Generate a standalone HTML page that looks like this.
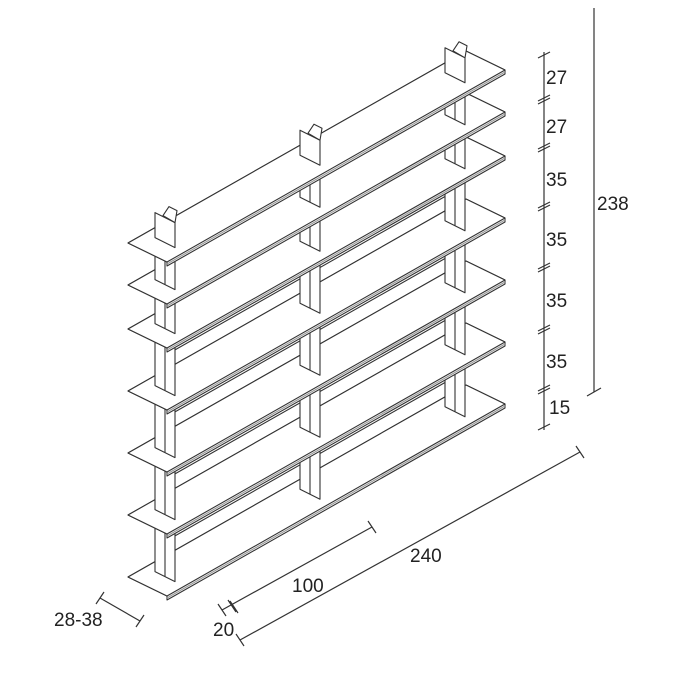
<!DOCTYPE html>
<html><head><meta charset="utf-8"><style>
html,body{margin:0;padding:0;background:#fff;width:686px;height:686px;overflow:hidden}
svg text{font-family:"Liberation Sans",sans-serif;font-size:19px;fill:#222}
</style></head><body>
<svg id="s" width="686" height="686" viewBox="0 0 686 686" xmlns="http://www.w3.org/2000/svg">
<g id="g" stroke="#333" stroke-width="1.1" fill="#fff" stroke-linejoin="round"></g>
<g stroke="#333" stroke-width="1.2" fill="none">
<line x1="544" y1="52" x2="544" y2="430"/>
<line x1="594" y1="8" x2="594" y2="392"/>
<line x1="587" y1="396" x2="601" y2="388"/>
<path d="M538 58l12-6 M538 430l12-6 M538 101l12-6 M538 104l12-6 M538 149l12-6 M538 152l12-6 M538 208l12-6 M538 211l12-6 M538 269l12-6 M538 272l12-6 M538 331l12-6 M538 334l12-6 M538 391l12-6 M538 394l12-6"/>
<line x1="240" y1="640" x2="580" y2="452"/>
<path d="M236 634l8 12 M576 446l8 12"/>
<line x1="222" y1="610" x2="372" y2="527"/>
<path d="M218 604l8 12 M368 521l8 12 M228 600l8 12 M230 601l8 12"/>
<line x1="100" y1="598" x2="140" y2="621"/>
<path d="M96 604l8-12 M136 627l8-12"/>
</g>
<text x="546" y="84">27</text>
<text x="546" y="133">27</text>
<text x="546" y="186">35</text>
<text x="546" y="246">35</text>
<text x="546" y="307">35</text>
<text x="546" y="368">35</text>
<text x="549" y="414">15</text>
<text x="597" y="210">238</text>
<text x="410" y="562">240</text>
<text x="292" y="592">100</text>
<text x="213" y="636">20</text>
<text x="54" y="626">28-38</text>
</svg>
<script>
var g=document.getElementById('g');var h='';
var ybs=[577,515,453,391,329,285,243];
function P(a){return '<polygon points="'+a.map(function(p){return p[0].toFixed(1)+','+p[1].toFixed(1)}).join(' ')+'"/>';}
function L(a,b,c,d){return '<line x1="'+a.toFixed(1)+'" y1="'+b.toFixed(1)+'" x2="'+c.toFixed(1)+'" y2="'+d.toFixed(1)+'"/>';}
function shelfY(yb,x){return yb+9.5-0.568*(x-147.5);}
var pxs=[155,300,445];
function shelf(yb){
 var BL=[128,yb],FL=[167,yb+19],FR=[505,yb-173],BR=[466,yb-192];
 h+=P([BL,FL,[FL[0],FL[1]+4],[FR[0],FR[1]+4],FR,BR]);
 h+=P([BL,FL,FR,BR]);
 h+='<line x1="'+FL[0]+'" y1="'+(FL[1]+2)+'" x2="'+FR[0]+'" y2="'+(FR[1]+2)+'" stroke="#999"/>';
}
function upr(ybU,ybL,px){
 var cU=shelfY(ybU,px+10)+4,cL=shelfY(ybL,px+10);
 h+=P([[px,cU-5],[px+20,cU+5],[px+20,cL+5],[px,cL-5]]);
 h+=L(px+10,cU,px+10,cL);
}
for(var i=0;i<3;i++){var fx=175+143.5*i,fy=shelfY(577,fx)+14;h+='<path d="M'+(fx-8)+' '+(fy-3)+'a8 6 0 0 0 16 0"/>';}
shelf(577);
for(var k=0;k<6;k++){
 var yL=ybs[k],yU=ybs[k+1];
 if(k<5){var a=pxs[0]+20,b=pxs[2],off=(yL-yU)*0.5;
  h+=L(a,shelfY(yL,a)-off-4,b,shelfY(yL,b)-off-4);}
 for(var j=0;j<3;j++)upr(yU,yL,pxs[j]);
 shelf(yU);
}
for(var j=0;j<3;j++){var px=pxs[j],c=shelfY(243,px+10);
 h+=P([[px,c-30],[px+20,c-20],[px+20,c+5],[px,c-5]]);
 h+=P([[px+8,c-27],[px+14,c-36],[px+22,c-32],[px+20,c-20]]);
}
g.innerHTML=h;
</script>
</body></html>
